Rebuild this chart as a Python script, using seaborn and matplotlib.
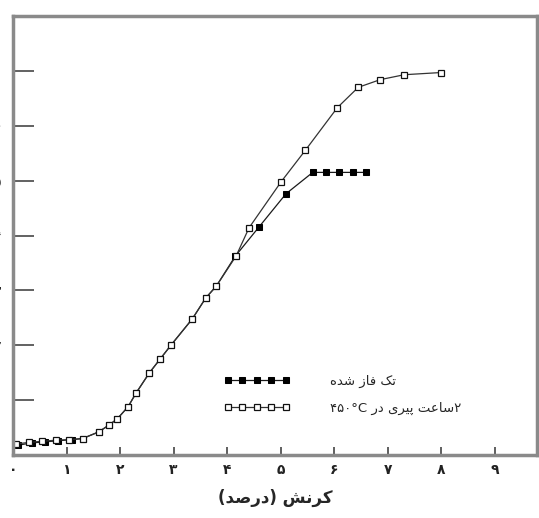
import re
import matplotlib
matplotlib.use("Agg")
import matplotlib.pyplot as plt
import seaborn as sns

# داده‌ها (خوانده‌شده از تصویر)
single_x = [0.10, 0.35, 0.60, 0.85, 1.10, 1.30, 1.60, 1.80, 1.95, 2.15, 2.30, 2.55, 2.75,
            2.95, 3.35, 3.60, 3.80, 4.15, 4.60, 5.10, 5.60, 5.85, 6.10, 6.35, 6.60]
single_y = [0.18, 0.22, 0.24, 0.26, 0.28, 0.30, 0.42, 0.55, 0.66, 0.88, 1.13, 1.50, 1.75,
            2.00, 2.48, 2.86, 3.08, 3.62, 4.16, 4.76, 5.15, 5.15, 5.15, 5.15, 5.15]

aged_x = [0.05, 0.30, 0.55, 0.80, 1.05, 1.30, 1.60, 1.80, 1.95, 2.15, 2.30, 2.55, 2.75,
          2.95, 3.35, 3.60, 3.80, 4.17, 4.41, 5.01, 5.46, 6.06, 6.45, 6.86, 7.31, 8.00]
aged_y = [0.20, 0.23, 0.25, 0.27, 0.28, 0.30, 0.42, 0.55, 0.66, 0.88, 1.13, 1.50, 1.75,
          2.00, 2.48, 2.86, 3.08, 3.63, 4.14, 4.98, 5.55, 6.33, 6.70, 6.84, 6.93, 6.97]

x_ticks = list(range(10))
y_ticks = list(range(9))
fa_digits = "۰۱۲۳۴۵۶۷۸۹"

label_single = "تک فاز شده"
label_aged = "۲ساعت پیری در ۴۵۰°C"
x_label = "کرنش (درصد)"

# شکل‌دهی ساده حروف فارسی (matplotlib خودش متن راست‌به‌چپ را نمی‌چیند)
FORMS = {
    "ا": ("\uFE8D", "\uFE8E", None, None),
    "د": ("\uFEA9", "\uFEAA", None, None),
    "ر": ("\uFEAD", "\uFEAE", None, None),
    "ز": ("\uFEAF", "\uFEB0", None, None),
    "ت": ("\uFE95", "\uFE96", "\uFE97", "\uFE98"),
    "س": ("\uFEB1", "\uFEB2", "\uFEB3", "\uFEB4"),
    "ش": ("\uFEB5", "\uFEB6", "\uFEB7", "\uFEB8"),
    "ص": ("\uFEB9", "\uFEBA", "\uFEBB", "\uFEBC"),
    "ع": ("\uFEC9", "\uFECA", "\uFECB", "\uFECC"),
    "ف": ("\uFED1", "\uFED2", "\uFED3", "\uFED4"),
    "ن": ("\uFEE5", "\uFEE6", "\uFEE7", "\uFEE8"),
    "ه": ("\uFEE9", "\uFEEA", "\uFEEB", "\uFEEC"),
    "ک": ("\uFB8E", "\uFB8F", "\uFB90", "\uFB91"),
    "پ": ("\uFB56", "\uFB57", "\uFB58", "\uFB59"),
    "ی": ("\uFBFC", "\uFBFD", "\uFBFE", "\uFBFF"),
}


def fa(s):
    out = []
    for i, ch in enumerate(s):
        f = FORMS.get(ch)
        if f is None:
            out.append(ch)
            continue
        prev = s[i - 1] if i > 0 else ""
        nxt = s[i + 1] if i + 1 < len(s) else ""
        jp = prev in FORMS and FORMS[prev][2] is not None
        jn = f[2] is not None and nxt in FORMS
        if jp and jn:
            out.append(f[3])
        elif jp:
            out.append(f[1])
        elif jn:
            out.append(f[2])
        else:
            out.append(f[0])
    vis = "".join(out)[::-1].translate(str.maketrans("()", ")("))
    return re.sub(r"[0-9۰-۹°A-Za-z.]+", lambda m: m.group(0)[::-1], vis)


sns.set_style("white")
plt.rcParams["font.family"] = ["DejaVu Sans"]

fig = plt.figure(figsize=(5.39, 5.18), dpi=100)
ax = fig.add_axes([13 / 539, 63 / 518, 524 / 539, 439 / 518])

sns.lineplot(x=single_x, y=single_y, ax=ax, color="#1a1a1a", lw=0.9, marker="s",
             markersize=4.5, markerfacecolor="black", markeredgecolor="black",
             estimator=None, sort=False, label=fa(label_single))
sns.lineplot(x=aged_x, y=aged_y, ax=ax, color="#333333", lw=0.9, marker="s",
             markersize=4.5, markerfacecolor="white", markeredgecolor="#111111",
             markeredgewidth=0.9, estimator=None, sort=False, label=fa(label_aged))

ax.set_xlim(0, 9.79)
ax.set_ylim(0, 8.0)
ax.set_xticks(x_ticks)
ax.set_xticklabels([fa_digits[i] for i in x_ticks], fontsize=10, fontweight="bold")
ax.set_yticks(y_ticks)
ax.set_yticklabels([fa_digits[i] for i in y_ticks], fontsize=10)
ax.tick_params(axis="x", bottom=True, direction="in", length=6, width=1.2, pad=6,
               color="#444444", labelcolor="#222222")
ax.tick_params(axis="y", left=True, direction="in", length=15, width=1.3, pad=9,
               color="#555555", labelcolor="#222222")
ax.set_xlabel(fa(x_label), fontsize=12, fontweight="bold", labelpad=8)
ax.set_ylabel("")

for sp in ax.spines.values():
    sp.set_visible(True)
    sp.set_color("#8a8a8a")
    sp.set_linewidth(2.5)

leg = ax.legend(loc="lower left", bbox_to_anchor=(0.38, 0.065), frameon=False,
                numpoints=5, handlelength=5.0, handletextpad=3.0, labelspacing=1.0,
                prop={"size": 9.5})

fig.savefig("out.png", dpi=100)
